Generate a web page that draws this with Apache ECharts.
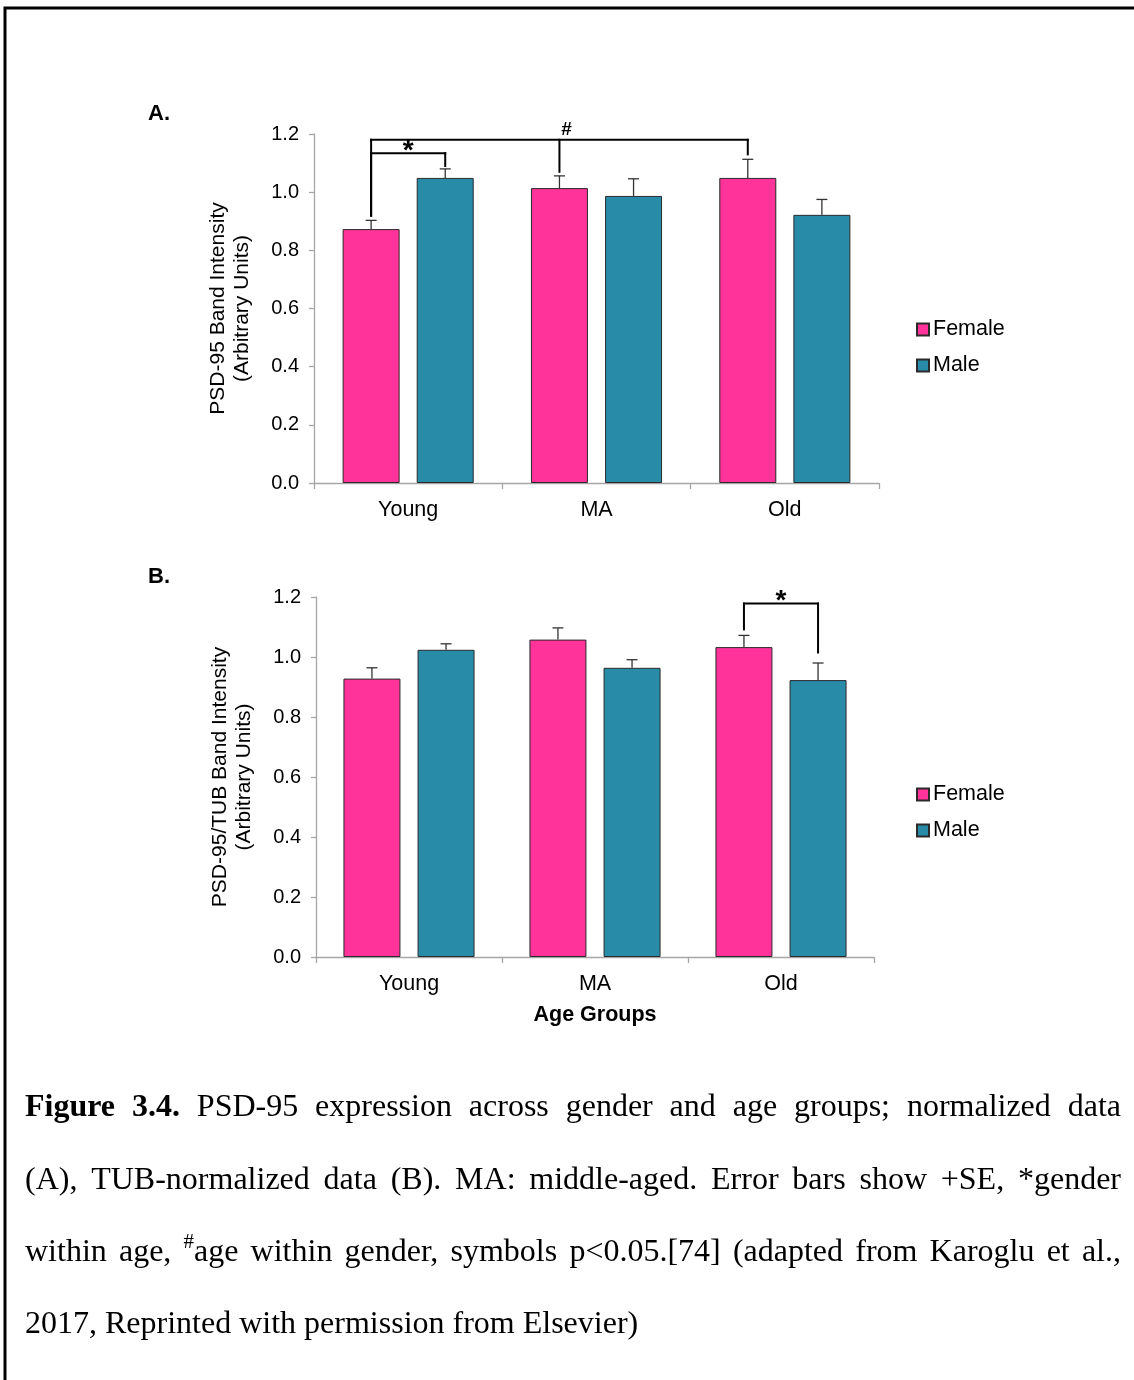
<!DOCTYPE html>
<html><head><meta charset="utf-8">
<script src="https://cdn.jsdelivr.net/npm/echarts@6/dist/echarts.min.js"></script>
<style>html,body{margin:0;padding:0;background:#fff}#c{width:1134px;height:1380px}</style>
</head><body><div id="c"></div>
<script>
// ---------- data ----------
const categories = ['Young', 'MA', 'Old'];
const seriesNames = ['Female', 'Male'];
const femaleA = [0.873, 1.014, 1.049];
const femaleA_SE = [0.030, 0.042, 0.064];
const maleA = [1.049, 0.987, 0.922];
const maleA_SE = [0.031, 0.059, 0.053];
const femaleB = [0.928, 1.058, 1.033];
const femaleB_SE = [0.036, 0.039, 0.039];
const maleB = [1.024, 0.964, 0.923];
const maleB_SE = [0.020, 0.027, 0.057];
const yMin = 0, yMax = 1.2, yStep = 0.2;
// significance brackets: legs = [category index, series (0 female / 1 male), leg bottom value]
const bracketsA = [
  { label: '#', level: 1.180, legs: [[0, 0, 0.919], [1, 0, 1.070], [2, 0, 1.130]] },
  { label: '*', level: 1.134, legs: [[0, 0, 0.919], [0, 1, 1.090]] }
];
const bracketsB = [
  { label: '*', level: 1.178, legs: [[2, 0, 1.092], [2, 1, 1.015]] }
];
const captionLines = [
  [['Figure 3.4.', 'b'], [' PSD-95 expression across gender and age groups; normalized data', 'n']],
  [['(A), TUB-normalized data (B). MA: middle-aged. Error bars show +SE, *gender', 'n']],
  [['within age, ', 'n'], ['#', 'sup'], ['age within gender, symbols p<0.05.[74] (adapted from Karoglu et al.,', 'n']],
  [['2017, Reprinted with permission from Elsevier)', 'n']]
];

// ---------- style ----------
const SANS = '"Liberation Sans", Arial, sans-serif';
const SERIF = '"Liberation Serif", "Times New Roman", serif';
const PINK = '#FF3399', TEAL = '#288BA8', EDGE = '#2a2a2a', AXIS = '#a6a6a6';
const BAR_W = 57, BAR_GAP = 0.3;
const OFF = BAR_W * (1 + BAR_GAP) / 2;

function errRender(params, api) {
  const c = api.coord([api.value(0), api.value(1)]);
  const t = api.coord([api.value(0), api.value(1) + api.value(2)]);
  const x = c[0] + api.value(3) * OFF;
  const st = { stroke: '#333', lineWidth: 1.3 };
  return { type: 'group', children: [
    { type: 'line', shape: { x1: x, y1: c[1], x2: x, y2: t[1] }, style: st },
    { type: 'line', shape: { x1: x - 5.5, y1: t[1], x2: x + 5.5, y2: t[1] }, style: st }
  ]};
}
function bracketRender(list) {
  return function (params, api) {
    const b = list[api.value(2)];
    const yL = api.coord([0, b.level])[1];
    const st = { stroke: '#000', lineWidth: 2, lineCap: 'square' };
    const xs = b.legs.map(l => api.coord([l[0], l[2]])[0] + (l[1] === 0 ? -OFF : OFF));
    const children = [];
    b.legs.forEach((l, i) => {
      const yb = api.coord([l[0], l[2]])[1];
      children.push({ type: 'line', shape: { x1: xs[i], y1: yL, x2: xs[i], y2: yb }, style: st });
    });
    children.push({ type: 'line', shape: { x1: Math.min(...xs), y1: yL, x2: Math.max(...xs), y2: yL }, style: st });
    const lx = xs.length === 2 ? (xs[0] + xs[1]) / 2 : xs[1] + 7;
    const isStar = b.label === '*';
    children.push({ type: 'text', x: lx, y: isStar ? yL + 12 : yL - 1,
      style: { text: b.label, font: 'bold ' + (isStar ? 28 : 19) + 'px ' + SANS, fill: '#000',
        align: 'center', textAlign: 'center', verticalAlign: 'bottom', textVerticalAlign: 'bottom' } });
    return { type: 'group', children };
  };
}

function xAxisCfg(gi, withName) {
  const o = {
    type: 'category', gridIndex: gi, data: categories, boundaryGap: true,
    axisLine: { show: true, lineStyle: { color: AXIS, width: 1.3 } },
    axisTick: { show: true, length: 6, lineStyle: { color: AXIS, width: 1.3 } },
    axisLabel: { color: '#000', fontSize: 21.5, fontFamily: SANS, margin: 16.5 },
    splitLine: { show: false }
  };
  if (withName) {
    o.name = 'Age Groups'; o.nameLocation = 'middle'; o.nameGap = 47;
    o.nameTextStyle = { color: '#000', fontSize: 21.5, fontWeight: 'bold', fontFamily: SANS };
  }
  return o;
}
function yAxisCfg(gi, name) {
  return {
    type: 'value', gridIndex: gi, min: yMin, max: yMax, interval: yStep,
    name: name, nameLocation: 'middle', nameRotate: 90, nameGap: 60,
    nameTextStyle: { color: '#000', fontSize: 21, fontFamily: SANS, lineHeight: 24 },
    axisLine: { show: true, lineStyle: { color: AXIS, width: 1.3 } },
    axisTick: { show: true, length: 5, lineStyle: { color: AXIS, width: 1.3 } },
    axisLabel: { color: '#000', fontSize: 20, fontFamily: SANS, margin: 15, formatter: v => v.toFixed(1) },
    splitLine: { show: false }
  };
}
function barSeries(name, data, gi, color) {
  return { type: 'bar', name, data, xAxisIndex: gi, yAxisIndex: gi, barWidth: BAR_W, barGap: (BAR_GAP * 100) + '%',
    itemStyle: { color, borderColor: EDGE, borderWidth: 1 }, emphasis: { disabled: true }, z: 2 };
}
function errSeries(f, fse, m, mse, gi) {
  const d = [];
  categories.forEach((c, i) => { d.push([i, f[i], fse[i], -1]); d.push([i, m[i], mse[i], 1]); });
  return { type: 'custom', xAxisIndex: gi, yAxisIndex: gi, data: d, renderItem: errRender, z: 5, silent: true };
}
function bracketSeries(list, gi) {
  return { type: 'custom', xAxisIndex: gi, yAxisIndex: gi, data: list.map((b, i) => [b.legs[0][0], b.level, i]),
    renderItem: bracketRender(list), z: 6, silent: true, clip: false };
}

// ---------- caption (justified) ----------
const capFonts = { n: '32px ' + SERIF, b: 'bold 32px ' + SERIF, sup: '21px ' + SERIF };
const mctx = document.createElement('canvas').getContext('2d');
function measure(t, s) { mctx.font = capFonts[s]; return mctx.measureText(t).width; }
function buildCaption() {
  const L = 25, R = 1121, ys = [1108, 1181, 1253, 1325];
  const els = [];
  captionLines.forEach((runs, li) => {
    const words = []; let cur = [];
    runs.forEach(([t, s]) => {
      const parts = t.split(' ');
      parts.forEach((p, pi) => {
        if (pi > 0) { if (cur.length) words.push(cur); cur = []; }
        if (p.length) cur.push([p, s]);
      });
    });
    if (cur.length) words.push(cur);
    const ww = words.map(w => w.reduce((a, [t, s]) => a + measure(t, s), 0));
    const total = ww.reduce((a, b) => a + b, 0);
    const justify = li < captionLines.length - 1;
    const space = justify ? (R - L - total) / (words.length - 1) : measure(' ', 'n');
    let x = L;
    words.forEach((w, wi) => {
      let xx = x;
      w.forEach(([t, s]) => {
        els.push({ type: 'text', x: xx, y: ys[li] + (s === 'sup' ? -11 : 0), silent: true,
          style: { text: t, font: capFonts[s], fill: '#000', align: 'left', textAlign: 'left',
            verticalAlign: 'middle', textVerticalAlign: 'middle' } });
        xx += measure(t, s);
      });
      x += ww[wi] + space;
    });
  });
  return els;
}

const chart = echarts.init(document.getElementById('c'), null, { renderer: 'canvas' });
const legendBase = { data: seriesNames, orient: 'vertical', left: 916, padding: 0, itemWidth: 12, itemHeight: 12, itemGap: 13,
  icon: 'rect', selectedMode: false, textStyle: { fontSize: 21.5, fontFamily: SANS, color: '#000', lineHeight: 23, padding: [0, 0, 0, -1] } };
chart.setOption({
  animation: false,
  backgroundColor: '#fff',
  title: [
    { text: 'A.', left: 148, top: 103, padding: 0, textStyle: { fontSize: 22, fontWeight: 'bold', fontFamily: SANS, color: '#000' } },
    { text: 'B.', left: 148, top: 566, padding: 0, textStyle: { fontSize: 22, fontWeight: 'bold', fontFamily: SANS, color: '#000' } }
  ],
  legend: [
    Object.assign({}, legendBase, { top: 318 }),
    Object.assign({}, legendBase, { top: 783 })
  ],
  grid: [
    { left: 314, top: 134, width: 565, height: 349, containLabel: false },
    { left: 316, top: 597, width: 558, height: 360, containLabel: false }
  ],
  xAxis: [xAxisCfg(0, false), xAxisCfg(1, true)],
  yAxis: [yAxisCfg(0, 'PSD-95 Band Intensity\n(Arbitrary Units)'), yAxisCfg(1, 'PSD-95/TUB Band Intensity\n(Arbitrary Units)')],
  series: [
    barSeries('Female', femaleA, 0, PINK),
    barSeries('Male', maleA, 0, TEAL),
    barSeries('Female', femaleB, 1, PINK),
    barSeries('Male', maleB, 1, TEAL),
    errSeries(femaleA, femaleA_SE, maleA, maleA_SE, 0),
    errSeries(femaleB, femaleB_SE, maleB, maleB_SE, 1),
    bracketSeries(bracketsA, 0),
    bracketSeries(bracketsB, 1)
  ],
  graphic: [
    { type: 'polyline', silent: true, shape: { points: [[5, 1380], [5, 8], [1134, 8]] }, style: { stroke: '#000', lineWidth: 3, fill: null } }
  ].concat(buildCaption())
});
</script>
</body></html>
